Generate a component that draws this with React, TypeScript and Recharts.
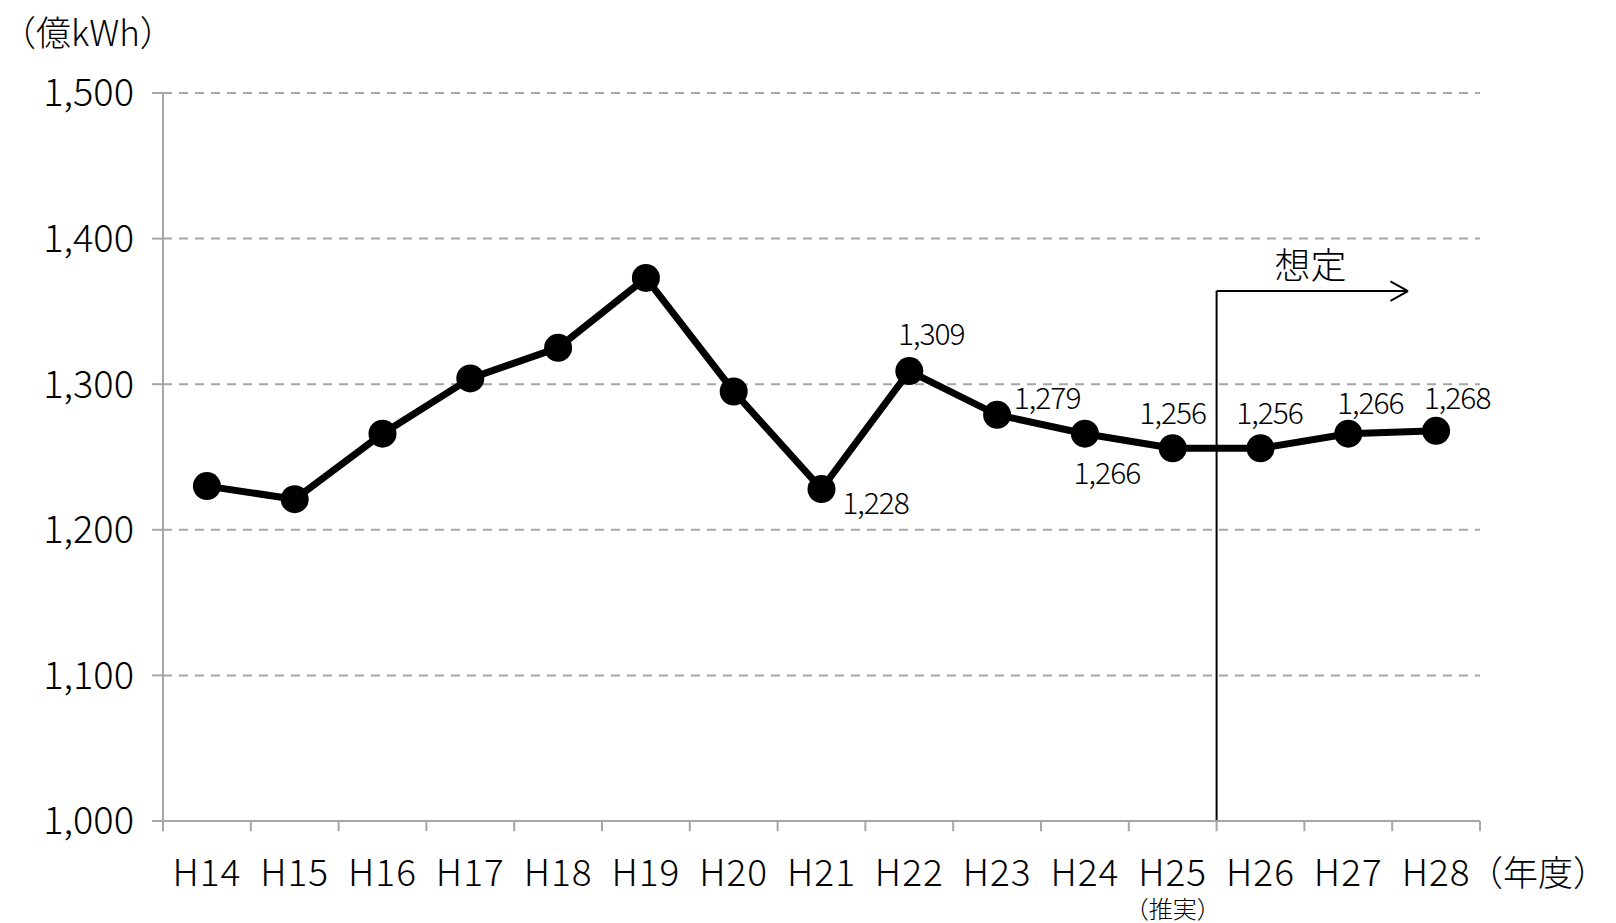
import React from 'react';
import {
  LineChart,
  Line,
  XAxis,
  YAxis,
  CartesianGrid,
  ReferenceLine,
  ReferenceDot,
} from 'recharts';

const categories = ['H14', 'H15', 'H16', 'H17', 'H18', 'H19', 'H20', 'H21', 'H22', 'H23', 'H24', 'H25', 'H26', 'H27', 'H28'];
const subLabels = ['', '', '', '', '', '', '', '', '', '', '', '（推実）', '', '', ''];
const values = [1230, 1221, 1266, 1304, 1325, 1373, 1295, 1228, 1309, 1279, 1266, 1256, 1256, 1266, 1268];
const shownLabels: (number | null)[] = [null, null, null, null, null, null, null, 1228, 1309, 1279, 1266, 1256, 1256, 1266, 1268];
const yTicks = [1000, 1100, 1200, 1300, 1400, 1500];
const boundaryTicks = [0, 1, 2, 3, 4, 5, 6, 7, 8, 9, 10, 11, 12, 13, 14, 15];
const centerTicks = categories.map((_, i) => i + 0.5);

const forecastStart = 12;
const arrowEnd = 14.18;
const arrowLevel = 1364;
const forecastText = '想定';
const forecastTextPos = { x: 13.07, y: 1382 };
const yUnit = '（億kWh）';
const xUnit = '（年度）';

// label offsets (px) relative to each dot
const labelOffsets: [number, number][] = [
  [0, 0], [0, 0], [0, 0], [0, 0], [0, 0], [0, 0], [0, 0],
  [54, 15], [22, -36], [50, -16], [22, 40], [0, -34], [9, -34], [22, -30], [21, -32],
];

const data = categories.map((c, i) => ({ x: i + 0.5, name: c, value: values[i], label: shownLabels[i] }));

const FONT = '"Noto Sans CJK JP", "Noto Sans", sans-serif';
const WEIGHT = 300;
const GRAY = '#a6a6a6';
const TICK_DEPTH = 7; // value units below the axis for boundary tick marks

const fmt = (v: number) => v.toLocaleString('en-US');

const CatTick = (props: any) => {
  const { x, y, payload } = props;
  const i = Math.round(payload.value - 0.5);
  return (
    <g>
      <text x={x} y={y + 65} textAnchor="middle" fontSize={37} fill="#000" fontFamily={FONT} fontWeight={WEIGHT} letterSpacing={1}>
        {categories[i]}
      </text>
      {subLabels[i] ? (
        <text x={x} y={y + 97} textAnchor="middle" fontSize={24} fill="#000" fontFamily={FONT} fontWeight={WEIGHT}>
          {subLabels[i]}
        </text>
      ) : null}
    </g>
  );
};

const renderLabel = (props: any) => {
  const { x, y, index } = props;
  const v = shownLabels[index];
  if (v == null) return null;
  const [dx, dy] = labelOffsets[index];
  return (
    <text x={x + dx} y={y + dy + 10} textAnchor="middle" fontSize={30} fill="#000" fontFamily={FONT} fontWeight={WEIGHT} letterSpacing={-1}>
      {fmt(v)}
    </text>
  );
};

export default function App() {
  return (
    <div style={{ position: 'absolute', left: 0, top: 0, background: '#fff' }}>
      <LineChart
        width={1616}
        height={923}
        data={data}
        margin={{ top: 93, right: 136, left: 0, bottom: 0 }}
        style={{ fontFamily: FONT }}
      >
        <CartesianGrid xAxisId="cat" vertical={false} stroke={GRAY} strokeWidth={2} strokeDasharray="9 7" />
        <XAxis
          xAxisId="cat"
          type="number"
          dataKey="x"
          domain={[0, 15]}
          ticks={centerTicks}
          tick={<CatTick />}
          tickSize={0}
          tickMargin={0}
          height={102}
          axisLine={{ stroke: GRAY, strokeWidth: 2 }}
          tickLine={false}
          interval={0}
        />
        <YAxis
          type="number"
          domain={[1000, 1500]}
          ticks={yTicks}
          width={163}
          tickSize={11}
          tickMargin={18}
          tickFormatter={fmt}
          tick={{ fontSize: 38, fill: '#000', fontFamily: FONT, fontWeight: WEIGHT }}
          axisLine={{ stroke: GRAY, strokeWidth: 2 }}
          tickLine={{ stroke: GRAY, strokeWidth: 2 }}
          label={{
            content: () => (
              <text x={1} y={46} fontSize={35} fill="#000" fontFamily={FONT} fontWeight={WEIGHT}>
                {yUnit}
              </text>
            ),
          }}
        />
        {boundaryTicks.map((b) => (
          <ReferenceLine
            key={`bt-${b}`}
            xAxisId="cat"
            segment={[{ x: b, y: 1000 }, { x: b, y: 1000 - TICK_DEPTH }]}
            stroke={GRAY}
            strokeWidth={2}
            ifOverflow="visible"
          />
        ))}
        <ReferenceLine
          xAxisId="cat"
          segment={[{ x: forecastStart, y: 1000 }, { x: forecastStart, y: arrowLevel }]}
          stroke="#000"
          strokeWidth={2}
          ifOverflow="visible"
        />
        <ReferenceLine
          xAxisId="cat"
          segment={[{ x: forecastStart, y: arrowLevel }, { x: arrowEnd, y: arrowLevel }]}
          stroke="#000"
          strokeWidth={2}
          ifOverflow="visible"
        />
        <ReferenceLine
          xAxisId="cat"
          segment={[{ x: arrowEnd - 0.2, y: arrowLevel + 6.7 }, { x: arrowEnd, y: arrowLevel }]}
          stroke="#000"
          strokeWidth={2}
          ifOverflow="visible"
        />
        <ReferenceLine
          xAxisId="cat"
          segment={[{ x: arrowEnd - 0.2, y: arrowLevel - 6.7 }, { x: arrowEnd, y: arrowLevel }]}
          stroke="#000"
          strokeWidth={2}
          ifOverflow="visible"
        />
        <ReferenceDot
          xAxisId="cat"
          x={forecastTextPos.x}
          y={forecastTextPos.y}
          r={0}
          ifOverflow="visible"
          shape={(p: any) => (
            <text x={p.cx} y={p.cy + 14} textAnchor="middle" fontSize={36} fill="#000" fontFamily={FONT} fontWeight={WEIGHT}>
              {forecastText}
            </text>
          )}
        />
        <ReferenceDot
          xAxisId="cat"
          x={15}
          y={1000}
          r={0}
          ifOverflow="visible"
          shape={(p: any) => (
            <text x={p.cx + 128} y={p.cy + 65} textAnchor="end" fontSize={35} fill="#000" fontFamily={FONT} fontWeight={WEIGHT}>
              {xUnit}
            </text>
          )}
        />
        <Line
          xAxisId="cat"
          type="linear"
          dataKey="value"
          stroke="#000"
          strokeWidth={7}
          dot={{ r: 14, fill: '#000', stroke: '#000', strokeWidth: 0 }}
          activeDot={false}
          isAnimationActive={false}
          label={renderLabel}
        />
      </LineChart>
    </div>
  );
}
